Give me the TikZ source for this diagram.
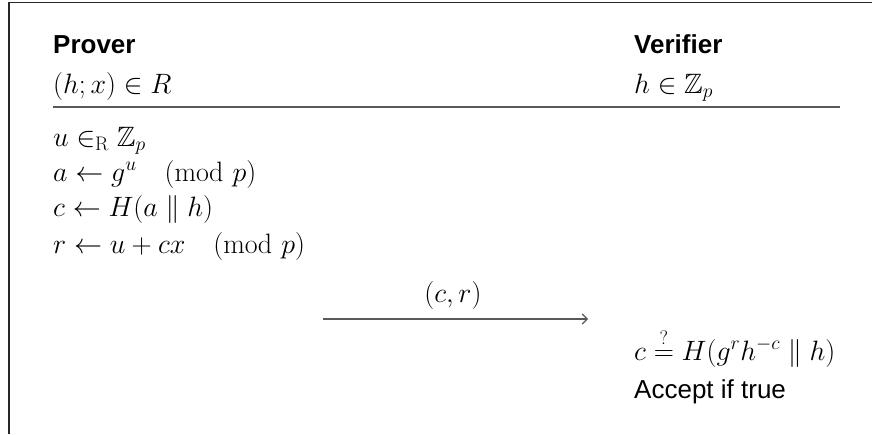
\RequirePackage{fix-cm}
\documentclass[tikz,border=0pt]{standalone}
\usepackage{amsmath,amssymb}
\DeclareFontFamily{U}{msb}{}
\DeclareFontShape{U}{msb}{m}{n}{<-> msbm10}{}
\usepackage{fontspec}
\setsansfont{Liberation Sans}
\usetikzlibrary{arrows.meta}
\begin{document}
\begin{tikzpicture}[x=1pt,y=-1pt,
  mtxt/.style={font=\fontsize{28}{32}\selectfont, anchor=base west, inner sep=0pt},
  stxt/.style={font=\fontsize{26}{30}\selectfont\sffamily, anchor=base west, inner sep=0pt},
  htxt/.style={font=\fontsize{26}{30}\selectfont\sffamily\bfseries, anchor=base west, inner sep=0pt},
  rulecol/.style={draw=black!65, line width=1.3pt},
  framecol/.style={draw=black!85, line width=1.3pt}]
\useasboundingbox (0,0) rectangle (872,434);
% frame
\coordinate (fb) at (9,434);
\coordinate (fc) at (9,2.5);
\coordinate (fr) at (872,2.5);
\draw[framecol] (fb) -- (fc) -- (fr);
% headers
\node[htxt] (prover) at (53,53) {Prover};
\node[mtxt] (pin) at (53,93) {$(h;x)\in R$};
\node[htxt] (verifier) at (634,53) {Verifier};
\node[mtxt] (vin) at (634,93) {$h\in\mathbb{Z}_p$};
\coordinate (rl) at (53,107);
\coordinate (rr) at (840,107);
\draw[rulecol] (rl) -- (rr);
% prover steps
\node[mtxt] (s1) at (53,146) {$u\in_{\mathrm{R}}\mathbb{Z}_p$};
\node[mtxt] (s2) at (53,181) {$a\leftarrow g^u\quad(\mathrm{mod}\mkern6mu p)$};
\node[mtxt] (s3) at (53,216) {$c\leftarrow H(a\parallel h)$};
\node[mtxt] (s4) at (53,253) {$r\leftarrow u+cx\quad(\mathrm{mod}\mkern6mu p)$};
% message
\coordinate (as) at (323,319);
\coordinate (ae) at (588,319);
\draw[rulecol,-{Straight Barb[length=5pt,width=10pt,line width=1.2pt]}] (as) -- (ae);
\node[font=\fontsize{28}{32}\selectfont, anchor=base, inner sep=0pt] (msg) at (453,302) {$(c,r)$};
% verifier steps
\node[mtxt] (v1) at (634,360) {$c\stackrel{?}{=}H(g^r h^{-c}\parallel h)$};
\node[stxt] (v2) at (634,398) {Accept if true};
\end{tikzpicture}
\end{document}
